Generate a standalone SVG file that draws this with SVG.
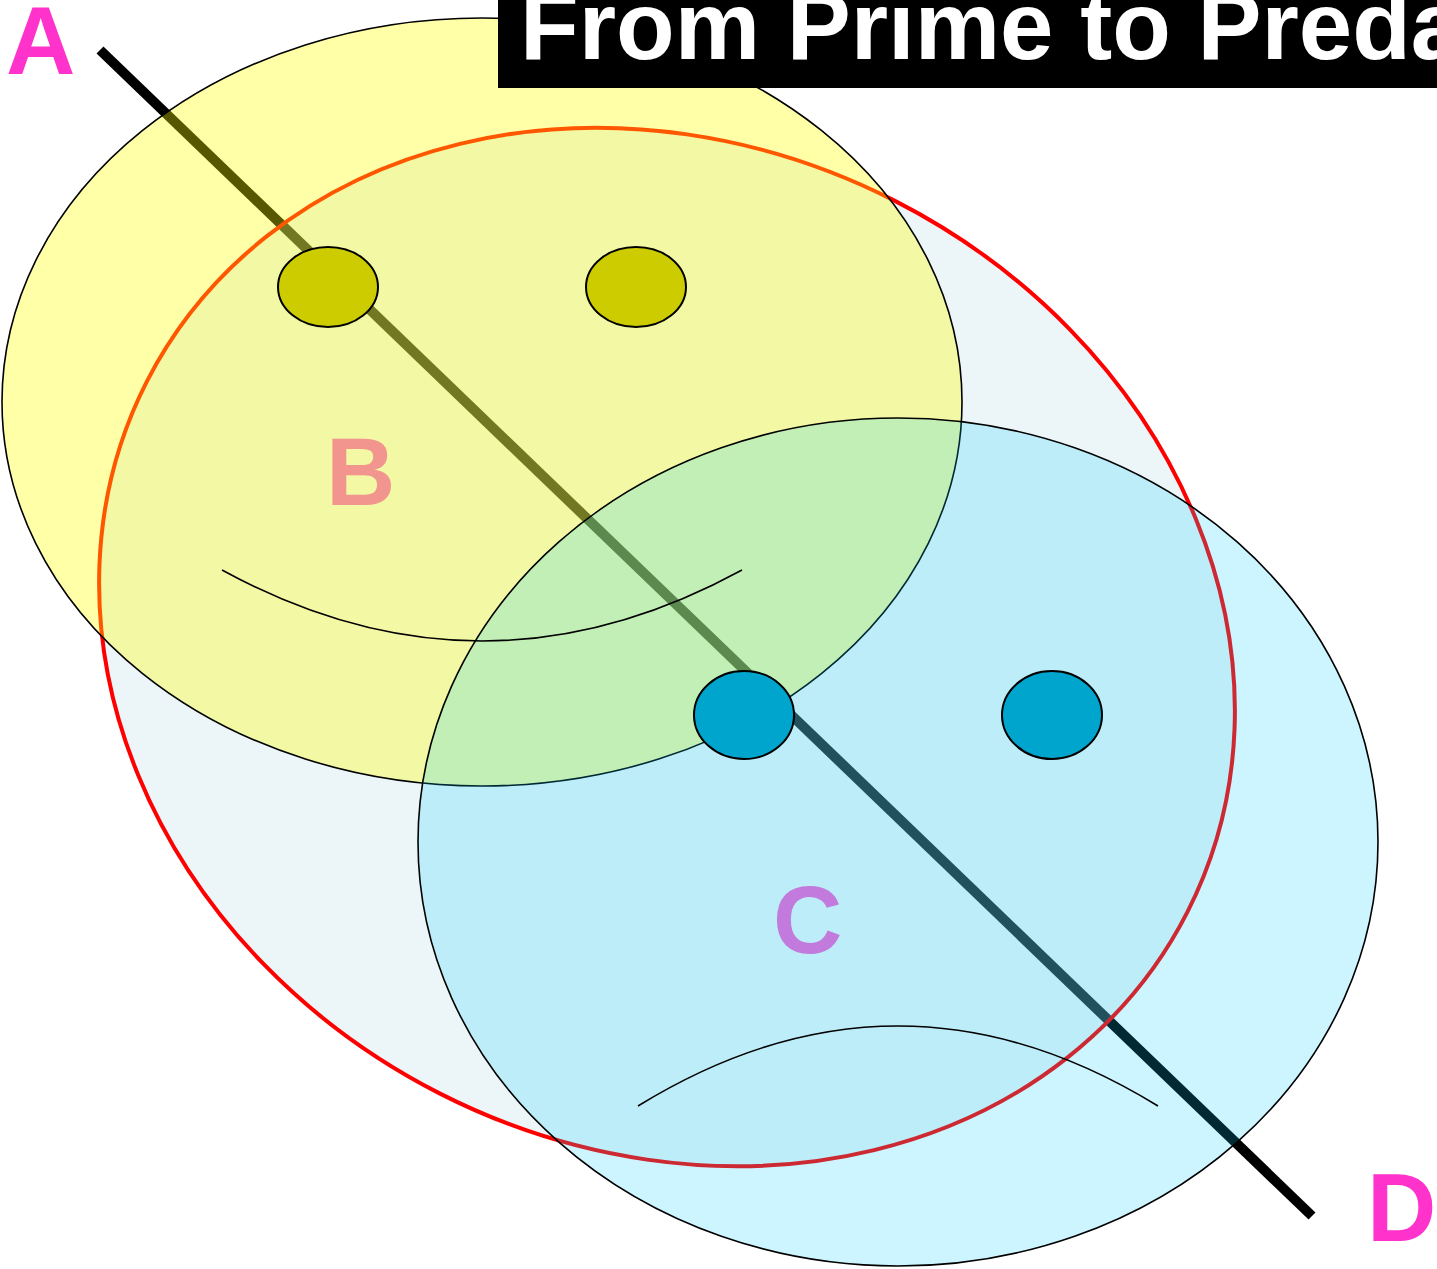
<svg xmlns="http://www.w3.org/2000/svg" width="1437" height="1269" viewBox="0 0 1437 1269">
<style>
.lbl{font-family:"Liberation Sans",Arial,sans-serif;font-weight:bold;font-size:96px}
.thin{fill:none;stroke:#000;stroke-width:1.6}
.eyeY{fill:#CCCC00;stroke:#000;stroke-width:2}
.eyeB{fill:#00A5CE;stroke:#000;stroke-width:2}
</style>
<rect width="1437" height="1269" fill="#fff"/>
<g id="connectors">
<line x1="100" y1="50" x2="1312" y2="1216" stroke="#000" stroke-width="10"/>
</g>
<g id="outer">
<ellipse cx="667" cy="647" rx="584" ry="501" transform="rotate(27 667 647)" fill="#B0D5DE" fill-opacity="0.24" stroke="#FF0000" stroke-width="4"/>
</g>
<g id="happy">
<ellipse cx="482" cy="402" rx="480" ry="384" fill="#FFFF00" fill-opacity="0.34" stroke="#000" stroke-width="1.6"/>
</g>
<g id="sad">
<ellipse cx="898" cy="842" rx="480" ry="424" fill="#00CCFF" fill-opacity="0.2" stroke="#000" stroke-width="1.6"/>
</g>
<g id="happy-face">
<ellipse class="eyeY" cx="328" cy="287" rx="50" ry="40"/>
<ellipse class="eyeY" cx="636" cy="287" rx="50" ry="40"/>
<path class="thin" d="M222 570 Q482 712 742 570"/>
</g>
<g id="sad-face">
<ellipse class="eyeB" cx="744" cy="715" rx="50" ry="44"/>
<ellipse class="eyeB" cx="1052" cy="715" rx="50" ry="44"/>
<path class="thin" d="M638 1106 Q898 946 1158 1106"/>
</g>
<g id="labels">
<text class="lbl" x="6" y="74" fill="#FF33CC">A</text>
<text class="lbl" x="326" y="505" fill="#F2958F">B</text>
<text class="lbl" x="773" y="953" fill="#C27ADC">C</text>
<text class="lbl" x="1367" y="1241" fill="#FF33CC">D</text>
</g>
<g id="title">
<rect x="498" y="-2" width="945" height="90" fill="#000"/>
<text x="520" y="59" font-family="'Liberation Sans',Arial,sans-serif" font-weight="bold" font-size="96" fill="#fff">From Prime to Preda</text>
</g>
</svg>
